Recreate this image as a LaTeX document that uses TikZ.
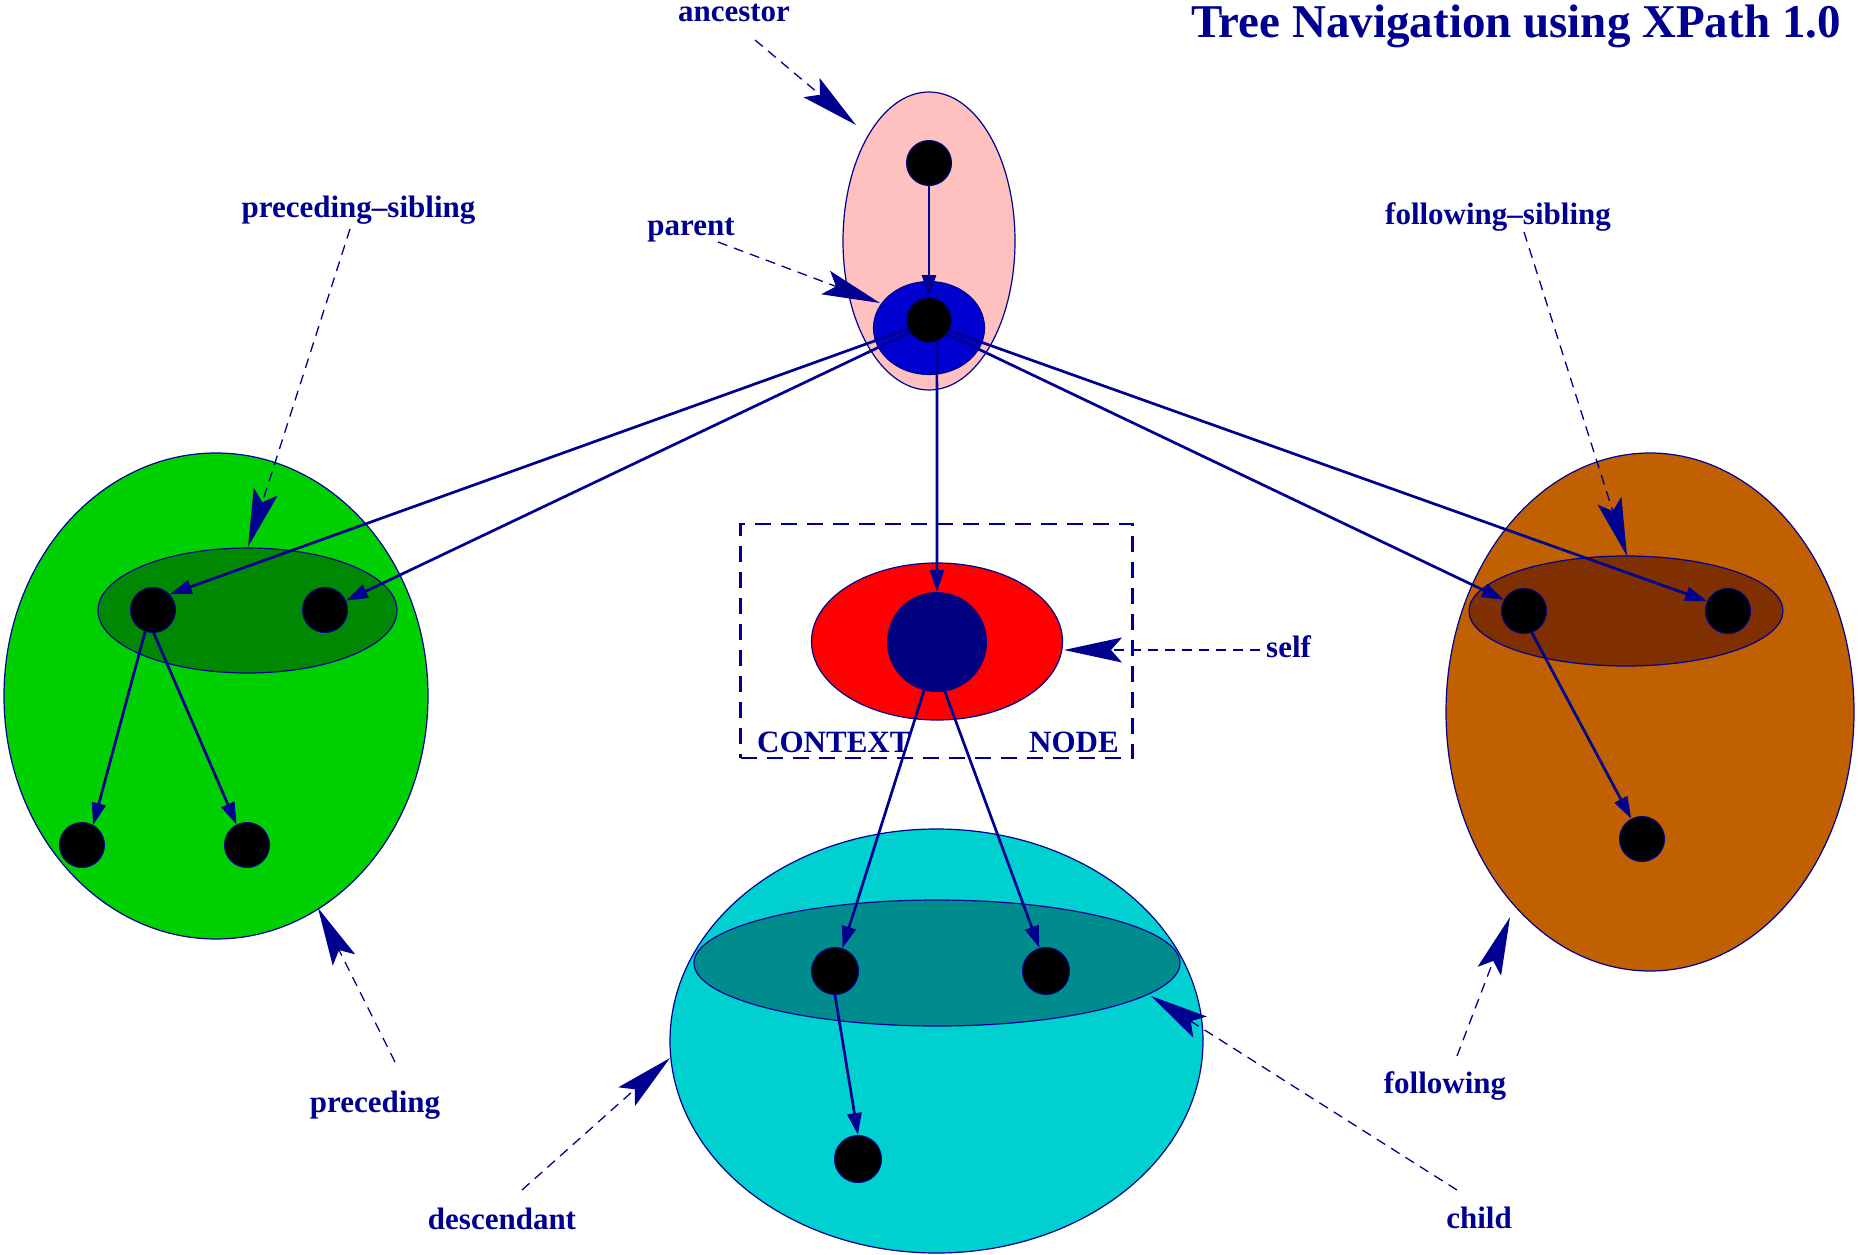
\documentclass[tikz,border=0pt]{standalone}
\usepackage{fontspec}
\setmainfont{Liberation Serif}
\usetikzlibrary{arrows.meta,shapes.geometric}

\definecolor{navy}{RGB}{0,0,144}
\definecolor{ctxblue}{RGB}{0,0,128}
\definecolor{pinkfill}{RGB}{255,192,192}
\definecolor{blue2}{RGB}{0,0,208}
\definecolor{green2}{RGB}{0,208,0}
\definecolor{green4}{RGB}{0,136,0}
\definecolor{cyan2}{RGB}{0,208,208}
\definecolor{cyan4}{RGB}{0,140,140}
\definecolor{brown2}{RGB}{192,96,0}
\definecolor{brown4}{RGB}{128,48,0}

\tikzset{
  region/.style={ellipse, draw=navy, line width=1.2pt, inner sep=0pt},
  dot/.style={circle, fill=black, draw=navy, line width=1pt, minimum size=45pt, inner sep=0pt},
  edge/.style={draw=navy, line width=2.7pt, -{Triangle[length=22pt,width=14pt]}},
  annot/.style={draw=navy, line width=1.3pt, dash pattern=on 10pt off 7pt,
    -{Stealth[length=58pt,width=25pt,inset=11pt]}},
  lab/.style={text=navy, font=\fontsize{31}{31}\selectfont\bfseries, anchor=base, inner sep=0pt},
  titlestyle/.style={text=navy, font=\fontsize{47}{47}\selectfont\bfseries, anchor=base east, inner sep=0pt}
}

\begin{document}
\begin{tikzpicture}[x=1pt,y=-1pt]
\useasboundingbox (0,0) rectangle (1860,1255);

% title
\node[titlestyle] (title) at (1841,38) {Tree Navigation using XPath 1.0};

% ancestor / parent group
\node[region, fill=pinkfill, minimum width=172pt, minimum height=298pt] (ancreg) at (929,241) {};
\node[region, fill=blue2, minimum width=111pt, minimum height=93pt] (parreg) at (929,328) {};

% preceding group
\node[region, fill=green2, minimum width=424pt, minimum height=486pt] (precreg) at (216,696) {};
\node[region, fill=green4, minimum width=299pt, minimum height=125pt] (psibreg) at (247.5,610.5) {};

% following group
\node[region, fill=brown2, minimum width=408pt, minimum height=518pt] (follreg) at (1650,712) {};
\node[region, fill=brown4, minimum width=314pt, minimum height=110pt] (fsibreg) at (1626,611) {};

% descendant group
\node[region, fill=cyan2, minimum width=533pt, minimum height=424pt] (descreg) at (936.5,1041) {};
\node[region, fill=cyan4, minimum width=486pt, minimum height=126pt] (childreg) at (937,963) {};

% context node
\node[draw=navy, line width=2.5pt, dash pattern=on 16pt off 10pt, minimum width=392pt, minimum height=234pt, inner sep=0pt] (ctxbox) at (936.5,641) {};
\node[region, fill=red, minimum width=251pt, minimum height=157pt] (selfreg) at (937,641.5) {};
\node[circle, fill=ctxblue, inner sep=0pt, minimum size=100pt] (ctx) at (937,642) {};
\node[lab, anchor=base west] (ctxl) at (757,752) {CONTEXT};
\node[lab, anchor=base west] (nodel) at (1029,752) {NODE};

% tree nodes
\node[dot] (td) at (929,163) {};
\node[dot] (pd) at (929,320) {};
\node[dot] (g1) at (153,610) {};
\node[dot] (g2) at (325,610) {};
\node[dot] (g3) at (82,845) {};
\node[dot] (g4) at (247,845) {};
\node[dot] (b1) at (1524,611) {};
\node[dot] (b2) at (1728,611) {};
\node[dot] (b3) at (1642,839) {};
\node[dot, minimum size=47pt] (c1) at (835,971) {};
\node[dot, minimum size=47pt] (c2) at (1046,971) {};
\node[dot, minimum size=47pt] (c3) at (858,1159) {};

% tree edges
\draw[edge] (td.south) -- (pd.north);
\draw[edge] (pd.203) -- (g1.43);
\draw[edge] (pd.213) -- (g2.24);
\draw[edge] (pd.-38) -- (b1.151);
\draw[edge] (pd.-28) -- (b2.155);
\draw[edge] (pd.-70) -- (ctx.north);
\draw[edge] (ctx.-105) -- (c1.72);
\draw[edge] (ctx.-81) -- (c2.106);
\draw[edge] (c1.south) -- (c3.north);
\draw[edge] (g1.-110) -- (g3.61);
\draw[edge] (g1.-88) -- (g4.117);
\draw[edge] (b1.-70) -- (b3.118);

% axis labels
\node[lab] (lanc) at (734,22) {ancestor};
\node[lab] (lpar) at (691,235) {parent};
\node[lab] (lpsib) at (358.5,217) {preceding--sibling};
\node[lab] (lfsib) at (1498,224) {following--sibling};
\node[lab, anchor=base west] (lself) at (1266,657) {self};
\node[lab] (lprec) at (375,1112) {preceding};
\node[lab] (lfoll) at (1445,1093) {following};
\node[lab] (ldesc) at (502,1229) {descendant};
\node[lab] (lchild) at (1479,1228) {child};

% pointer ends
\coordinate (ancA) at (755,40);    \coordinate (ancB) at (856,125);
\coordinate (parA) at (718,242);   \coordinate (parB) at (880,303);
\coordinate (psibA) at (350,229);  \coordinate (psibB) at (248,547);
\coordinate (fsibA) at (1524,232); \coordinate (fsibB) at (1627,556);
\coordinate (selfA) at (1260,650); \coordinate (selfB) at (1064,650);
\coordinate (precA) at (395,1062); \coordinate (precB) at (318,908);
\coordinate (follA) at (1457,1056);\coordinate (follB) at (1510,917);
\coordinate (descA) at (522,1190); \coordinate (descB) at (670,1058);
\coordinate (chA) at (1457,1190);  \coordinate (chB) at (1151,996);

% axis pointers
\draw[annot] (ancA) -- (ancB);
\draw[annot] (parA) -- (parB);
\draw[annot] (psibA) -- (psibB);
\draw[annot] (fsibA) -- (fsibB);
\draw[annot] (selfA) -- (selfB);
\draw[annot] (precA) -- (precB);
\draw[annot] (follA) -- (follB);
\draw[annot] (descA) -- (descB);
\draw[annot] (chA) -- (chB);
\end{tikzpicture}
\end{document}
